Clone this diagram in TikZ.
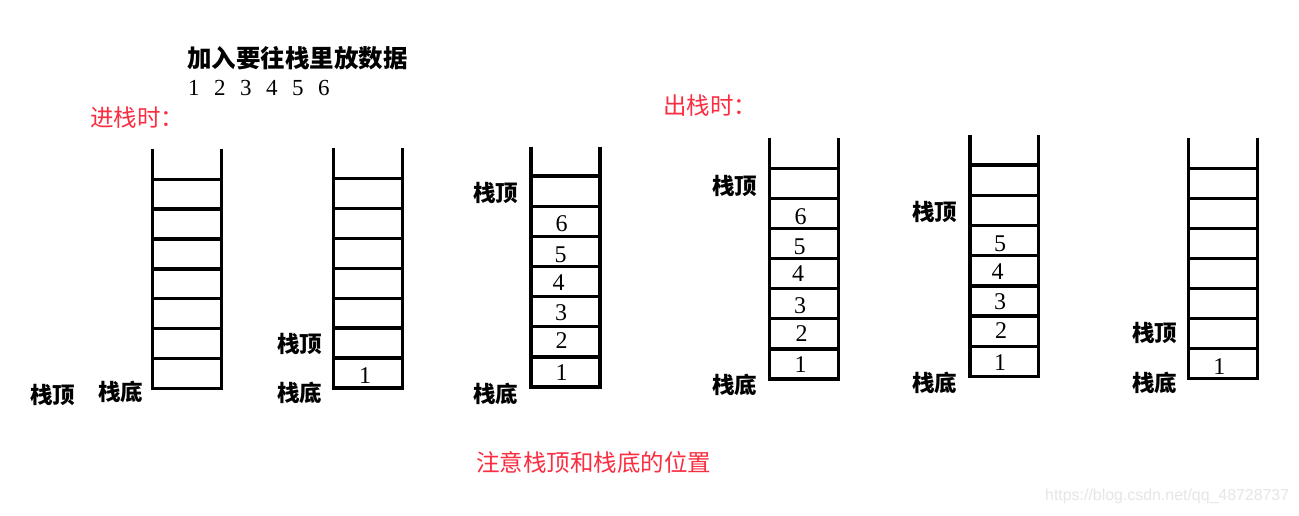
\documentclass[tikz,border=0pt]{standalone}
\usepackage{fontspec}
\setmainfont{Liberation Serif}
\newfontfamily\cjk{Noto Sans CJK SC}
\newfontfamily\wmfont{Liberation Sans}
\definecolor{notered}{RGB}{250,45,65}
\definecolor{wmgray}{RGB}{230,230,230}
\newcommand\ladder[5]{%
  \draw[rail] (#1,#3) -- (#1,#4) -- (#2,#4) -- (#2,#3);
  \foreach \k in {1,...,7} \draw[rung] (#1,{#4-\k*#5}) -- (#2,{#4-\k*#5});
}
\tikzset{
  rail/.style={line width=3.5pt, line cap=butt, line join=miter},
  rung/.style={line width=3.3pt},
  lbl/.style={anchor=west, inner sep=0pt, font=\cjk\bfseries\fontsize{22.5}{22.5}\selectfont},
  num/.style={inner sep=0pt, font=\fontsize{24}{24}\selectfont},
  redtxt/.style={inner sep=0pt, text=notered, font=\cjk\fontsize{23.5}{23.5}\selectfont},
}
\begin{document}
\begin{tikzpicture}[x=1pt,y=-1pt]
\useasboundingbox (0,0) rectangle (1299,515);
\fill[white] (0,0) rectangle (1299,515);

% titles
\node[inner sep=0pt, anchor=west, font=\cjk\bfseries\fontsize{24.5}{24.5}\selectfont] (title) at (187,58) {加入要往栈里放数据};
\node[inner sep=0pt, anchor=west, font=\fontsize{23}{23}\selectfont] (seq) at (188,88) {1\hspace{14.5pt}2\hspace{14.5pt}3\hspace{14.5pt}4\hspace{14.5pt}5\hspace{14.5pt}6};
\node[redtxt, anchor=west] (push) at (90,118) {进栈时：};
\node[redtxt, anchor=west] (pop) at (663,106) {出栈时：};
\node[redtxt] (note) at (593.5,463) {注意栈顶和栈底的位置};
\node[inner sep=0pt, anchor=west, text=wmgray, font=\wmfont\fontsize{15.9}{15.9}\selectfont] (wm) at (1045,496) {https://blog.csdn.net/qq\_48728737};

% stacks
\ladder{152.5}{221.5}{149}{388.5}{29.9}
\ladder{333.5}{402.5}{148}{388}{29.95}
\ladder{531}{600}{146.5}{387}{30.14}
\ladder{769.5}{838.5}{138}{379}{30.1}
\ladder{970}{1038.5}{135}{376.5}{30.2}
\ladder{1188.5}{1257.5}{138}{378.5}{30.03}

% stack 1 labels
\node[lbl] (t1) at (30,395) {栈顶};
\node[lbl] (b1) at (98,392) {栈底};
% stack 2
\node[lbl] (t2) at (277,344) {栈顶};
\node[lbl] (b2) at (277,393) {栈底};
\node[num] (s2n1) at (365,376) {1};
% stack 3
\node[lbl] (t3) at (473,193) {栈顶};
\node[lbl] (b3) at (473,394) {栈底};
\node[num] (s3n6) at (561.7,224) {6};
\node[num] (s3n5) at (560.5,255) {5};
\node[num] (s3n4) at (558.5,283) {4};
\node[num] (s3n3) at (561,313) {3};
\node[num] (s3n2) at (561.7,341) {2};
\node[num] (s3n1) at (561.7,373) {1};
% stack 4
\node[lbl] (t4) at (712,186) {栈顶};
\node[lbl] (b4) at (712,385) {栈底};
\node[num] (s4n6) at (800.7,216.7) {6};
\node[num] (s4n5) at (799.5,246.7) {5};
\node[num] (s4n4) at (798,274) {4};
\node[num] (s4n3) at (800,306) {3};
\node[num] (s4n2) at (801.5,334) {2};
\node[num] (s4n1) at (800.7,365) {1};
% stack 5
\node[lbl] (t5) at (912,212) {栈顶};
\node[lbl] (b5) at (912,383) {栈底};
\node[num] (s5n5) at (1000,244) {5};
\node[num] (s5n4) at (997.5,271.7) {4};
\node[num] (s5n3) at (1000,301.7) {3};
\node[num] (s5n2) at (1001,330.7) {2};
\node[num] (s5n1) at (1000,362.7) {1};
% stack 6
\node[lbl] (t6) at (1132,333) {栈顶};
\node[lbl] (b6) at (1132,383) {栈底};
\node[num] (s6n1) at (1219.3,366.7) {1};
\end{tikzpicture}
\end{document}
